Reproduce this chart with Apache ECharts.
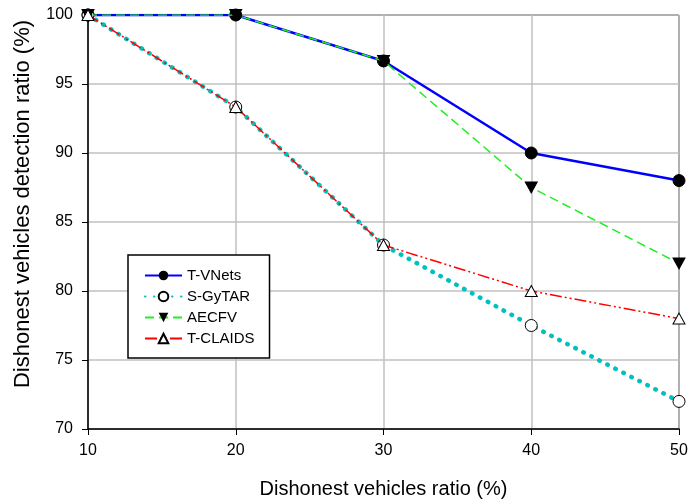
<!DOCTYPE html>
<html><head><meta charset="utf-8">
<script src="https://cdn.jsdelivr.net/npm/echarts@6/dist/echarts.min.js"></script>
<style>html,body{margin:0;padding:0;background:#fff}#c{width:691px;height:504px}</style>
</head><body><div id="c"></div>
<script>
const xValues = [10, 20, 30, 40, 50];
const tVNets = [100, 100, 96.67, 90, 88];
const sGyTAR = [100, 93.33, 83.33, 77.5, 72];
const aecfv = [100, 100, 96.67, 87.5, 82];
const tClaids = [100, 93.33, 83.33, 80, 78];
const seriesNames = ['T-VNets', 'S-GyTAR', 'AECFV', 'T-CLAIDS'];
const xTitle = 'Dishonest vehicles ratio (%)';
const yTitle = 'Dishonest vehicles detection ratio (%)';

const pairs = arr => arr.map((v, i) => [xValues[i], v]);
const downTri = 'path://M0,0 L10,0 L5,9 Z';
const font = 'Liberation Sans, Arial, sans-serif';

const chart = echarts.init(document.getElementById('c'));
chart.setOption({
  animation: false,
  grid: {left: 88, right: 12, top: 15, bottom: 75, show: true, borderColor: '#000', borderWidth: 1},
  legend: {
    orient: 'vertical', left: 128, top: 255,
    backgroundColor: '#fff', borderColor: '#000', borderWidth: 1.5,
    padding: [13, 15, 12, 16], itemGap: 6, itemWidth: 37, itemHeight: 12,
    textStyle: {fontFamily: font, fontSize: 15, color: '#000'},
    data: seriesNames
  },
  graphic: [{
    type: 'text', x: 23, y: 204, rotation: Math.PI / 2,
    style: {text: yTitle, fontFamily: font, fontSize: 22, fill: '#000', align: 'center', verticalAlign: 'middle'}
  }],
  xAxis: {
    type: 'value', min: 10, max: 50, interval: 10,
    name: xTitle, nameLocation: 'middle', nameGap: 50,
    nameTextStyle: {fontFamily: font, fontSize: 20, color: '#000'},
    axisLine: {lineStyle: {color: '#000', width: 1.5}},
    axisTick: {show: true, inside: false, length: 6, lineStyle: {color: '#000'}},
    axisLabel: {fontFamily: font, fontSize: 16, color: '#000', margin: 14},
    splitLine: {show: true, lineStyle: {color: '#c0c0c0', width: 1.5}}
  },
  yAxis: {
    type: 'value', min: 70, max: 100, interval: 5,
    axisLine: {show: true, lineStyle: {color: '#000', width: 1.5}},
    axisTick: {show: true, inside: false, length: 6, lineStyle: {color: '#000'}},
    axisLabel: {fontFamily: font, fontSize: 16, color: '#000', margin: 15},
    splitLine: {show: true, lineStyle: {color: '#c0c0c0', width: 1.5}}
  },
  series: [
    {name: seriesNames[0], type: 'line', data: pairs(tVNets), symbol: 'circle', symbolSize: 12,
      itemStyle: {color: '#000', borderColor: '#000'}, lineStyle: {color: '#0000ff', width: 2.5}, z: 2},
    {name: seriesNames[1], type: 'line', data: pairs(sGyTAR), symbol: 'circle', symbolSize: 12,
      itemStyle: {color: '#fff', borderColor: '#000', borderWidth: 1},
      lineStyle: {color: '#00c0c0', width: 4.5, type: [0.5, 8.5], cap: 'round'}, z: 3},
    {name: seriesNames[2], type: 'line', data: pairs(aecfv), symbol: downTri, symbolSize: [12, 11],
      itemStyle: {color: '#000', borderColor: '#000'},
      lineStyle: {color: '#22ee22', width: 1.5, type: [9, 5]}, z: 4},
    {name: seriesNames[3], type: 'line', data: pairs(tClaids), symbol: 'triangle', symbolSize: [12, 11],
      itemStyle: {color: '#fff', borderColor: '#000', borderWidth: 1},
      lineStyle: {color: '#ff0000', width: 1.5, type: [12, 3, 2, 3, 2, 3]}, z: 5}
  ]
});
</script></body></html>
